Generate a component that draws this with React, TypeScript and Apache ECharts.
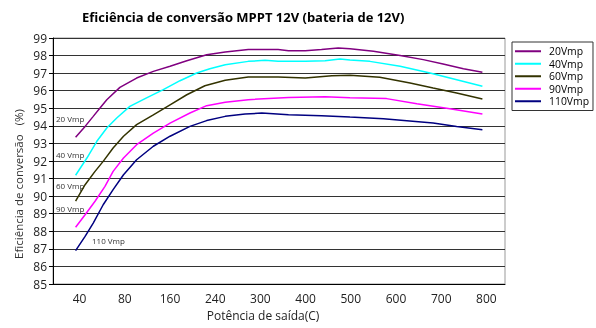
import React, { useEffect, useRef } from "react";
import * as echarts from "echarts";

const xCategories = ["40", "80", "160", "240", "300", "400", "500", "600", "700", "800"];
const seriesNames = ["20Vmp", "40Vmp", "60Vmp", "90Vmp", "110Vmp"];
const seriesColors = ["#800080", "#00ffff", "#333300", "#ff00ff", "#000080"];

const s20 = [[0,93.35],[0.21,93.97],[0.39,94.54],[0.54,95.02],[0.69,95.49],[0.98,96.19],[1.35,96.72],[1.72,97.1],[2.09,97.39],[2.46,97.71],[2.9,98.05],[3.31,98.2],[3.82,98.34],[4.48,98.34],[4.71,98.28],[5.08,98.28],[5.44,98.34],[5.81,98.43],[6.07,98.39],[6.59,98.24],[7.18,98.01],[7.69,97.77],[8.13,97.52],[8.58,97.25],[9,97.05]];
const s40 = [[0,91.19],[0.25,92.17],[0.47,93.12],[0.69,93.88],[0.91,94.45],[1.2,95.11],[1.57,95.59],[1.94,96.06],[2.31,96.57],[2.68,97.01],[2.97,97.25],[3.31,97.48],[3.82,97.67],[4.19,97.73],[4.48,97.67],[5.08,97.67],[5.52,97.71],[5.85,97.8],[6.07,97.75],[6.51,97.67],[7.18,97.39],[7.84,97.01],[8.28,96.72],[9,96.25]];
const s60 = [[0,89.71],[0.21,90.65],[0.43,91.41],[0.61,91.98],[0.83,92.74],[1.06,93.41],[1.35,94.07],[1.72,94.63],[2.09,95.2],[2.46,95.77],[2.86,96.28],[3.31,96.59],[3.82,96.78],[4.48,96.78],[5.08,96.72],[5.67,96.85],[6.07,96.88],[6.73,96.76],[7.4,96.44],[7.91,96.15],[8.43,95.87],[9,95.53]];
const s90 = [[0,88.23],[0.21,88.94],[0.43,89.71],[0.65,90.56],[0.83,91.41],[1.06,92.17],[1.35,92.93],[1.72,93.59],[2.09,94.16],[2.53,94.73],[2.9,95.15],[3.31,95.34],[3.82,95.49],[4.71,95.62],[5.52,95.66],[6.07,95.6],[6.88,95.55],[7.55,95.26],[8.28,94.98],[9,94.67]];
const s110 = [[0,86.9],[0.21,87.71],[0.39,88.47],[0.61,89.51],[0.83,90.37],[1.06,91.22],[1.35,92.07],[1.72,92.84],[2.09,93.41],[2.53,93.97],[2.9,94.3],[3.31,94.54],[3.75,94.67],[4.12,94.73],[4.71,94.63],[5.44,94.58],[6.07,94.5],[6.81,94.41],[7.91,94.16],[8.43,93.97],[9,93.78]];
const seriesData = [s20, s40, s60, s90, s110];

const curveLabels = ["20 Vmp", "40 Vmp", "60 Vmp", "90 Vmp", "110 Vmp"];

const FONT = "'Open Sans', 'Noto Sans', sans-serif";

export default function App() {
  const ref = useRef<HTMLDivElement>(null);
  useEffect(() => {
    if (!ref.current) return;
    const chart = echarts.init(ref.current, undefined, { renderer: "svg" });
    const labelPos = [
      [56, 118], [56, 154], [56, 185], [56, 208], [92, 240],
    ];
    chart.setOption({
      animation: false,
      textStyle: { fontFamily: FONT },
      title: {
        text: "Eficiência de conversão MPPT 12V (bateria de 12V)",
        left: 77,
        top: 5,
        textStyle: { fontSize: 13, fontWeight: "bold", color: "#000", fontFamily: FONT },
      },
      legend: {
        orient: "vertical",
        left: 512,
        top: 42,
        data: seriesNames,
        icon: "rect",
        itemWidth: 26,
        itemHeight: 2,
        itemGap: 0,
        padding: [3, 4, 3, 3],
        borderColor: "#333",
        borderWidth: 1,
        textStyle: { fontSize: 10.4, lineHeight: 12.5, color: "#000", padding: [0, 0, 0, 3], fontFamily: FONT },
      },
      grid: { left: 53, right: 91, top: 38, bottom: 44, show: true, borderColor: "#999", borderWidth: 1 },
      xAxis: [
        {
          type: "category",
          data: xCategories,
          boundaryGap: true,
          name: "Potência de saída(C)",
          nameLocation: "middle",
          nameGap: 25,
          nameTextStyle: { fontSize: 12, color: "#222", padding: [0, 32, 0, 0] },
          axisLine: { lineStyle: { color: "#000", width: 1 } },
          axisTick: { inside: true, length: 3, lineStyle: { color: "#000" } },
          axisLabel: { fontSize: 12, color: "#222", margin: 8, padding: [0, 0, 0, 8] },
          splitLine: { show: false },
        },
        {
          type: "value",
          min: -0.5,
          max: 9.5,
          show: false,
          splitLine: { show: false },
        },
      ],
      yAxis: {
        type: "value",
        min: 85,
        max: 99,
        interval: 1,
        axisLine: { show: true, onZero: false, lineStyle: { color: "#000", width: 1 } },
        axisTick: { show: true, length: 4, lineStyle: { color: "#000" } },
        axisLabel: { fontSize: 12, color: "#222", margin: 6 },
        splitLine: { show: true, lineStyle: { color: "#333", width: 1 } },
      },
      graphic: [
        {
          type: "text",
          x: 18,
          y: 184,
          rotation: Math.PI / 2,
          style: {
            text: "Eficiência de conversão   (%)",
            fontSize: 11.5,
            fill: "#333",
            fontFamily: FONT,
            align: "center",
            verticalAlign: "middle",
          },
        },
        ...curveLabels.map((t, i) => ({
          type: "text",
          x: labelPos[i][0],
          y: labelPos[i][1],
          style: { text: t, fontSize: 8, fill: "#333", fontFamily: FONT, verticalAlign: "middle" },
        })),
      ],
      series: seriesNames.map((n, i) => ({
        name: n,
        type: "line",
        xAxisIndex: 1,
        data: seriesData[i],
        symbol: "none",
        smooth: false,
        color: seriesColors[i],
        lineStyle: { color: seriesColors[i], width: 1.5 },
      })),
    });
    return () => chart.dispose();
  }, []);
  return <div ref={ref} style={{ position: "fixed", left: 0, top: 0, width: 596, height: 328 }} />;
}
